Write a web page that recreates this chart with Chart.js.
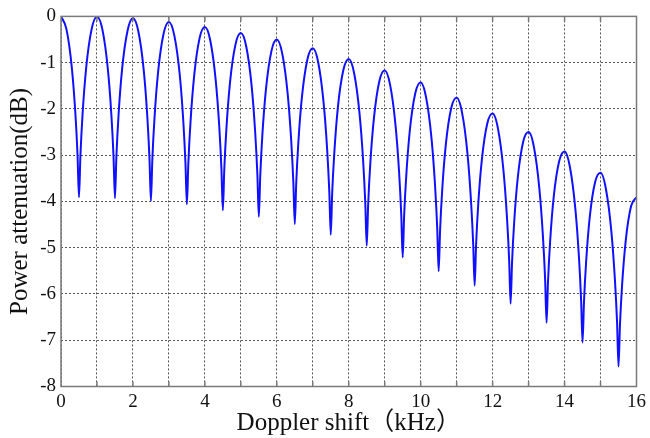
<!DOCTYPE html>
<html>
<head>
<meta charset="utf-8">
<script src="https://cdn.jsdelivr.net/npm/chart.js@4/dist/chart.umd.min.js"></script>
<style>
  html, body { margin: 0; padding: 0; background: #fff; }
  #wrap { width: 650px; height: 438px; }
</style>
</head>
<body>
<div id="wrap"><canvas id="myChart" width="650" height="438"></canvas></div>
<script>
// Doppler shift (kHz)
var dopplerKHz = [
    0, 0.15, 0.3, 0.4, 0.46, 0.5, 0.54, 0.6, 0.7, 0.85,
    1, 1.15, 1.3, 1.4, 1.46, 1.5, 1.54, 1.6, 1.7, 1.85,
    2, 2.15, 2.3, 2.4, 2.46, 2.5, 2.54, 2.6, 2.7, 2.85,
    3, 3.15, 3.3, 3.4, 3.46, 3.5, 3.54, 3.6, 3.7, 3.85,
    4, 4.15, 4.3, 4.4, 4.46, 4.5, 4.54, 4.6, 4.7, 4.85,
    5, 5.15, 5.3, 5.4, 5.46, 5.5, 5.54, 5.6, 5.7, 5.85,
    6, 6.15, 6.3, 6.4, 6.46, 6.5, 6.54, 6.6, 6.7, 6.85,
    7, 7.15, 7.3, 7.4, 7.46, 7.5, 7.54, 7.6, 7.7, 7.85,
    8, 8.15, 8.3, 8.4, 8.46, 8.5, 8.54, 8.6, 8.7, 8.85,
    9, 9.15, 9.3, 9.4, 9.46, 9.5, 9.54, 9.6, 9.7, 9.85,
    10, 10.15, 10.3, 10.4, 10.46, 10.5, 10.54, 10.6, 10.7, 10.85,
    11, 11.15, 11.3, 11.4, 11.46, 11.5, 11.54, 11.6, 11.7, 11.85,
    12, 12.15, 12.3, 12.4, 12.46, 12.5, 12.54, 12.6, 12.7, 12.85,
    13, 13.15, 13.3, 13.4, 13.46, 13.5, 13.54, 13.6, 13.7, 13.85,
    14, 14.15, 14.3, 14.4, 14.46, 14.5, 14.54, 14.6, 14.7, 14.85,
    15, 15.15, 15.3, 15.4, 15.46, 15.5, 15.54, 15.6, 15.7, 15.85,
    16
];

// Power attenuation (dB) at the points above
var attenuationDb = [
    0, -0.27, -1.10, -2.10, -3.00, -3.91, -3.01, -2.11, -1.11, -0.28,
    -0.01, -0.28, -1.12, -2.12, -3.02, -3.93, -3.03, -2.13, -1.13, -0.31,
    -0.04, -0.32, -1.16, -2.17, -3.08, -3.99, -3.08, -2.19, -1.20, -0.38,
    -0.12, -0.41, -1.25, -2.26, -3.17, -4.06, -3.18, -2.29, -1.30, -0.48,
    -0.23, -0.52, -1.37, -2.38, -3.29, -4.19, -3.30, -2.41, -1.42, -0.61,
    -0.36, -0.65, -1.50, -2.52, -3.42, -4.33, -3.44, -2.54, -1.56, -0.75,
    -0.50, -0.80, -1.66, -2.68, -3.59, -4.49, -3.60, -2.71, -1.73, -0.93,
    -0.69, -0.99, -1.86, -2.88, -3.80, -4.72, -3.81, -2.93, -1.95, -1.16,
    -0.92, -1.23, -2.10, -3.12, -4.04, -4.96, -4.06, -3.17, -2.20, -1.40,
    -1.17, -1.48, -2.35, -3.37, -4.29, -5.21, -4.31, -3.43, -2.45, -1.66,
    -1.43, -1.75, -2.63, -3.66, -4.58, -5.51, -4.61, -3.73, -2.76, -1.98,
    -1.76, -2.08, -2.96, -4.00, -4.92, -5.82, -4.94, -4.06, -3.10, -2.32,
    -2.10, -2.43, -3.32, -4.36, -5.28, -6.21, -5.32, -4.44, -3.48, -2.71,
    -2.50, -2.83, -3.73, -4.77, -5.69, -6.62, -5.73, -4.85, -3.89, -3.13,
    -2.92, -3.26, -4.16, -5.20, -6.13, -7.05, -6.17, -5.30, -4.34, -3.58,
    -3.38, -3.73, -4.64, -5.69, -6.62, -7.57, -6.67, -5.80, -4.85, -4.10,
    -3.91
];

var xMin = 0, xMax = 16;
var yMin = -8, yMax = 0;

var serif = "'Liberation Serif', 'Times New Roman', 'Noto Sans CJK SC', serif";

var points = [];
dopplerKHz.forEach((f, i) => points.push({x: f, y: attenuationDb[i]}));

// gray box round the plot with small inward ticks, like the original
var frame = {
    id: 'frame',
    afterDraw(chart) {
        var a = chart.chartArea;
        var ctx = chart.ctx;
        var xs = chart.scales.x;
        ctx.save();
        ctx.strokeStyle = '#7a7a7a';
        ctx.lineWidth = 1.5;
        ctx.strokeRect(a.left, a.top, a.right - a.left, a.bottom - a.top);
        ctx.beginPath();
        for (var v = xMin + 1; v < xMax; v++) {
            var px = xs.getPixelForValue(v);
            ctx.moveTo(px, a.bottom); ctx.lineTo(px, a.bottom - 5);
            ctx.moveTo(px, a.top); ctx.lineTo(px, a.top + 5);
        }
        ctx.stroke();
        ctx.restore();
    }
};

var ctx = document.getElementById('myChart').getContext('2d');
var chart = new Chart(ctx, {
    type: 'line',
    data: {
        datasets: [{
            data: points,
            borderColor: '#1010ff',
            borderWidth: 2,
            pointRadius: 0,
            cubicInterpolationMode: 'monotone',
            fill: false
        }]
    },
    options: {
        responsive: false,
        animation: false,
        devicePixelRatio: 1,
        layout: { padding: { left: 0, right: 12, top: 14, bottom: 0 } },
        plugins: { legend: { display: false }, tooltip: { enabled: false } },
        scales: {
            x: {
                type: 'linear',
                min: xMin,
                max: xMax,
                afterFit: s => { s.height = 51.5; },
                ticks: {
                    stepSize: 1,
                    autoSkip: false,
                    maxRotation: 0,
                    padding: 4,
                    color: '#111',
                    font: { family: serif, size: 19 },
                    callback: v => (v % 2 === 0 ? v : '')
                },
                grid: { color: '#555', lineWidth: 1, drawTicks: false },
                border: { display: false, dash: [2, 2] },
                title: {
                    display: true,
                    text: 'Doppler shift（kHz）',
                    color: '#111',
                    font: { family: serif, size: 25 },
                    padding: { top: 0, bottom: 0 }
                }
            },
            y: {
                min: yMin,
                max: yMax,
                afterFit: s => { s.width = 61; },
                ticks: {
                    stepSize: 1,
                    padding: 5,
                    color: '#111',
                    font: { family: serif, size: 19 }
                },
                grid: { color: '#555', lineWidth: 1, drawTicks: false },
                border: { display: false, dash: [2, 2] },
                title: {
                    display: true,
                    text: 'Power attenuation(dB)',
                    color: '#111',
                    font: { family: serif, size: 25 },
                    padding: { top: 5, bottom: 0 }
                }
            }
        }
    },
    plugins: [frame]
});
</script>
</body>
</html>
